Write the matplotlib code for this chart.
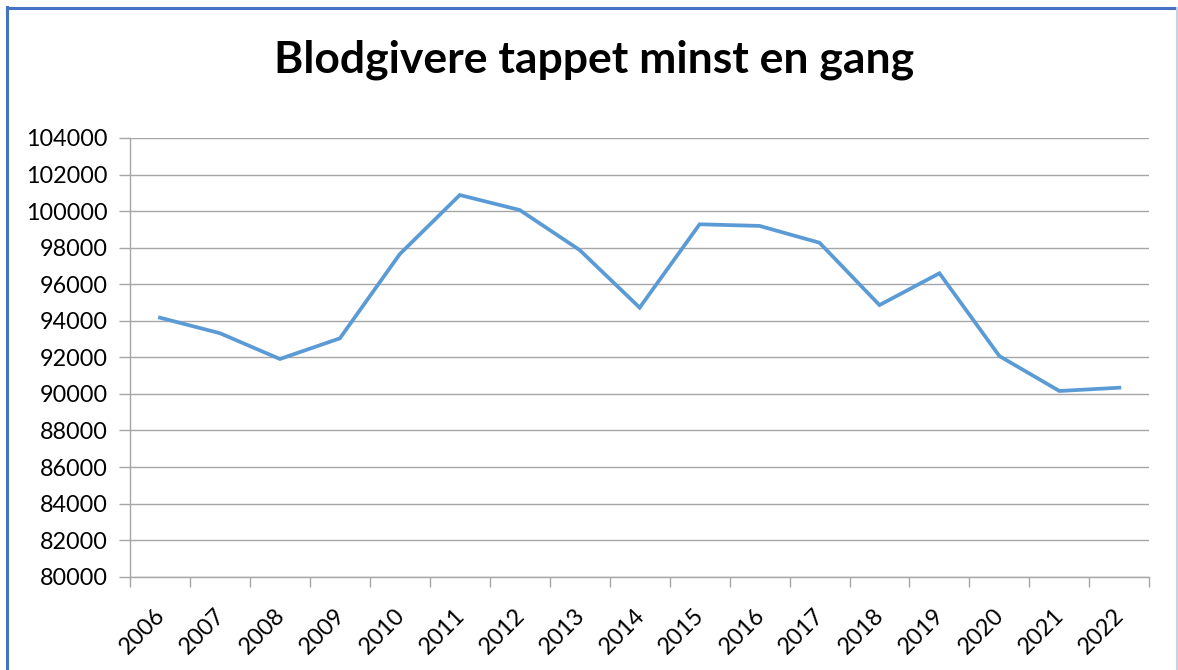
import matplotlib
matplotlib.use("Agg")
import matplotlib.pyplot as plt
import matplotlib.transforms as mtransforms
from matplotlib.lines import Line2D
import numpy as np

years = ["2006", "2007", "2008", "2009", "2010", "2011", "2012", "2013", "2014",
         "2015", "2016", "2017", "2018", "2019", "2020", "2021", "2022"]
donors = [94170, 93320, 91910, 93040, 97650, 100880, 100060, 97870, 94720,
          99280, 99190, 98270, 94860, 96600, 92070, 90160, 90340]
yticks = list(range(80000, 104001, 2000))
title = "Blodgivere tappet minst en gang"

plt.rcParams['font.family'] = ['Lato', 'DejaVu Sans']

W, H = 1178, 670
fig = plt.figure(figsize=(W / 100, H / 100), dpi=100)
ax = fig.add_axes([130 / W, (H - 576.7) / H, (1149.3 - 130) / W, (576.7 - 138) / H])

x = np.arange(len(years))
ax.plot(x, donors, color="#5B9BD5", linewidth=2.7, solid_joinstyle="miter")

ax.set_xlim(-0.5, len(years) - 0.5)
ax.set_ylim(80000, 104000)
ax.set_yticks(yticks)
ax.set_yticklabels([str(v) for v in yticks], fontsize=16.8)
ax.yaxis.grid(True, color="#a6a6a6", linewidth=1.0)
ax.set_axisbelow(True)

ax.set_xticks(np.arange(-0.5, len(years)), minor=True)
ax.set_xticks(x)
ax.set_xticklabels(years, rotation=45, ha="right", va="center",
                   rotation_mode="anchor", fontsize=16.8)
ax.tick_params(axis="x", which="major", length=0, pad=25.5)
ax.tick_params(axis="x", which="minor", length=7, width=1, color="#a6a6a6")
ax.tick_params(axis="y", length=8, width=1, color="#a6a6a6", pad=8)
offset = mtransforms.ScaledTranslation(1.5 / 100, 0, fig.dpi_scale_trans)
for lbl in ax.get_xticklabels():
    lbl.set_transform(lbl.get_transform() + offset)

for s in ["top", "right"]:
    ax.spines[s].set_visible(False)
for s in ["left", "bottom"]:
    ax.spines[s].set_color("#a6a6a6")
    ax.spines[s].set_linewidth(1.0)

fig.text(594 / W, 1 - 60 / H, title, ha="center", va="center",
         fontsize=32, fontweight="bold")

# outer frame (blue left/top, light right)
fig.add_artist(Line2D([6.5 / W, 6.5 / W], [0, 1 - 7 / H], color="#4472C4", linewidth=2.2,
                      transform=fig.transFigure))
fig.add_artist(Line2D([6.5 / W, 1], [1 - 7.5 / H, 1 - 7.5 / H], color="#4472C4", linewidth=2.2,
                      transform=fig.transFigure))
fig.add_artist(Line2D([1176.5 / W, 1176.5 / W], [0, 1 - 8 / H], color="#c5d3ea", linewidth=1.5,
                      transform=fig.transFigure))

fig.savefig("out.png", dpi=100, facecolor="white")
